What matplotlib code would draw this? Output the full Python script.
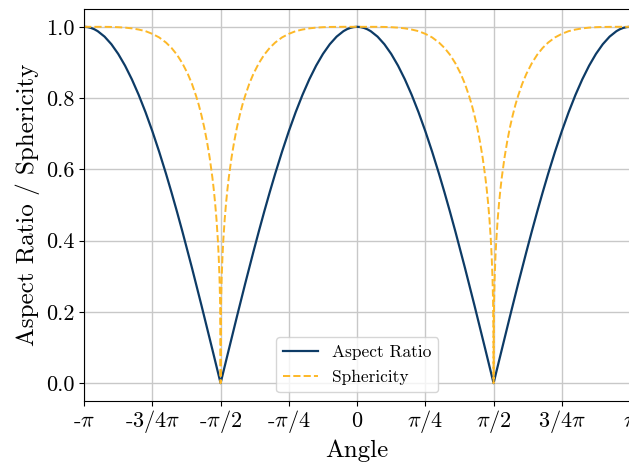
import numpy as np
import matplotlib
matplotlib.use("Agg")
import matplotlib.pyplot as plt

plt.rcParams["font.family"] = "serif"
plt.rcParams["font.serif"] = ["cmr10"]
plt.rcParams["mathtext.fontset"] = "cm"
plt.rcParams["axes.unicode_minus"] = False
plt.rcParams["axes.formatter.use_mathtext"] = True

# quarter period, angle in units of pi (0 .. 1/2); curves are symmetric
quarter_angle = [0.0, 0.0125, 0.025, 0.0375, 0.05, 0.075, 0.1, 0.125, 0.15,
                 0.175, 0.2, 0.225, 0.25, 0.275, 0.3, 0.32, 0.34, 0.36, 0.38,
                 0.395, 0.41, 0.42, 0.43, 0.44, 0.45, 0.46, 0.47, 0.475, 0.48,
                 0.485, 0.49, 0.493, 0.496, 0.498, 0.499, 0.4995, 0.5]
quarter_aspect = [1.0, 0.9992, 0.9969, 0.9931, 0.9877, 0.9724, 0.9511, 0.9239,
                  0.8910, 0.8526, 0.8090, 0.7604, 0.7071, 0.6494, 0.5878,
                  0.5358, 0.4818, 0.4258, 0.3681, 0.3239, 0.2790, 0.2487,
                  0.2181, 0.1874, 0.1564, 0.1253, 0.0941, 0.0785, 0.0628,
                  0.0471, 0.0314, 0.0220, 0.0126, 0.0063, 0.0031, 0.0016, 0.0]
quarter_spher = [1.0, 1.0, 1.0, 1.0, 1.0, 0.9999, 0.9996, 0.9989, 0.9977,
                 0.9956, 0.9923, 0.9878, 0.9802, 0.9702, 0.9558, 0.9409,
                 0.9219, 0.8977, 0.8676, 0.8401, 0.8066, 0.7812, 0.7514,
                 0.7180, 0.6787, 0.6327, 0.5768, 0.5435, 0.5051, 0.4594,
                 0.4015, 0.3566, 0.2960, 0.2350, 0.1865, 0.1480, 0.0]

tick_pos = [-1, -0.75, -0.5, -0.25, 0, 0.25, 0.5, 0.75, 1]
tick_labels = [r"$\text{-}\pi$", r"$\text{-}3/4\pi$", r"$\text{-}\pi/2$",
               r"$\text{-}\pi/4$", r"$0$", r"$\pi/4$", r"$\pi/2$",
               r"$3/4\pi$", r"$\pi$"]

# unfold quarter -> [0, pi] -> [-pi, pi]
qa = np.array(quarter_angle)
half_angle = np.concatenate([qa, 1 - qa[::-1][1:]])
angle = np.concatenate([-half_angle[::-1][:-1], half_angle]) * np.pi


def unfold(vals):
    v = np.array(vals)
    half = np.concatenate([v, v[::-1][1:]])
    return np.concatenate([half[::-1][:-1], half])


aspect = unfold(quarter_aspect)
spher = unfold(quarter_spher)

fig = plt.figure(figsize=(6.29, 4.63), dpi=100)
ax = fig.add_axes([0.1337, 0.1339, 0.868, 0.8467])

ax.plot(angle, aspect, color="#0d3b66", lw=1.6, label="Aspect Ratio")
ax.plot(angle, spher, color="#fdb827", lw=1.4, ls="--", label="Sphericity")

ax.set_xlim(-np.pi, np.pi)
ax.set_ylim(-0.05, 1.05)
ax.set_xticks(np.array(tick_pos) * np.pi)
ax.set_xticklabels(tick_labels)
ax.set_yticks([0.0, 0.2, 0.4, 0.6, 0.8, 1.0])
ax.set_yticklabels(["0.0", "0.2", "0.4", "0.6", "0.8", "1.0"])
ax.tick_params(labelsize=16)
# align x tick labels on their baseline, like LaTeX output
ax.tick_params(axis="x", pad=15.2)
for lbl in ax.get_xticklabels():
    lbl.set_verticalalignment("baseline")
ax.grid(True, color="#c8c8c8", lw=1)
ax.set_axisbelow(True)

ax.set_xlabel("Angle", fontsize=18, labelpad=3)
ax.set_ylabel("Aspect Ratio / Sphericity", fontsize=18, labelpad=4)
ax.legend(loc="lower center", fontsize=12.5, labelspacing=0.6)

fig.savefig("out.png", dpi=100)
